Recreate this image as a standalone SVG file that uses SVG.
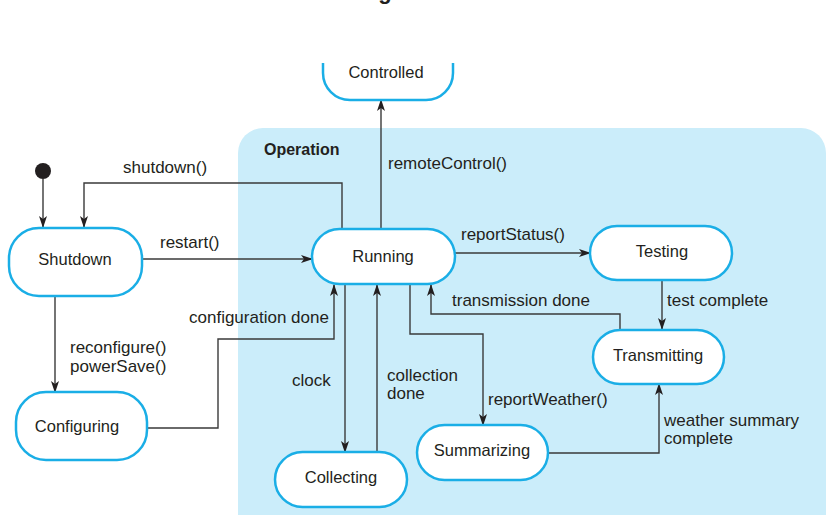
<svg xmlns="http://www.w3.org/2000/svg" width="835" height="519" viewBox="0 0 835 519">
<style>
.node{fill:#fff;stroke:#1aaee6;stroke-width:2.5}
.lbl{font-family:"Liberation Sans",Arial,sans-serif;font-size:17px;fill:#231f20}
.ntxt{font-family:"Liberation Sans",Arial,sans-serif;font-size:16.5px;fill:#231f20;text-anchor:middle}
.edge{fill:none;stroke:#3a3a3a;stroke-width:1.4}
</style>
<defs>
<marker id="ah" markerWidth="12" markerHeight="8" refX="11" refY="4" orient="auto" markerUnits="userSpaceOnUse">
<path d="M0,0 L12,4 L0,8 L3,4 z" fill="#231f20"/>
</marker>
</defs>
<rect width="835" height="519" fill="#fff"/>
<text x="385" y="-1" font-family="Liberation Sans,Arial,sans-serif" font-weight="bold" font-size="22" fill="#231f20" text-anchor="middle">g</text>
<g id="operation">
<path d="M238,515 V153 A25,25 0 0 1 263,128 H801 A25,25 0 0 1 826,153 V515 Z" fill="#cbedfa"/>
<text x="264" y="155" font-family="Liberation Sans,Arial,sans-serif" font-weight="bold" font-size="16" fill="#231f20">Operation</text>
</g>
<g id="connectors">
<circle cx="43" cy="171" r="8" fill="#231f20"/>
<path class="edge" d="M43,179 V227" marker-end="url(#ah)"/>
<path class="edge" d="M342,229 V183 H84 V227" marker-end="url(#ah)"/>
<path class="edge" d="M142,259 H312" marker-end="url(#ah)"/>
<path class="edge" d="M55,297 V392" marker-end="url(#ah)"/>
<path class="edge" d="M147,428 H218 V339 H334 V285" marker-end="url(#ah)"/>
<path class="edge" d="M345,285 V452" marker-end="url(#ah)"/>
<path class="edge" d="M377,452 V285" marker-end="url(#ah)"/>
<path class="edge" d="M410,285 V334 H483 V425" marker-end="url(#ah)"/>
<path class="edge" d="M620,330 V314 H431 V285" marker-end="url(#ah)"/>
<path class="edge" d="M455,253 H590" marker-end="url(#ah)"/>
<path class="edge" d="M662,280 V329" marker-end="url(#ah)"/>
<path class="edge" d="M548,453 H659 V384" marker-end="url(#ah)"/>
<path class="edge" d="M381,229 V100" marker-end="url(#ah)"/>
<text class="lbl" x="123" y="173">shutdown()</text>
<text class="lbl" x="160" y="248">restart()</text>
<text class="lbl" x="70" y="353">reconfigure()</text>
<text class="lbl" x="70" y="372">powerSave()</text>
<text class="lbl" x="189" y="323">configuration done</text>
<text class="lbl" x="292" y="386">clock</text>
<text class="lbl" x="387" y="381">collection</text>
<text class="lbl" x="387" y="399">done</text>
<text class="lbl" x="488" y="405">reportWeather()</text>
<text class="lbl" x="452" y="306">transmission done</text>
<text class="lbl" x="461" y="240">reportStatus()</text>
<text class="lbl" x="667" y="306">test complete</text>
<text class="lbl" x="664" y="426">weather summary</text>
<text class="lbl" x="664" y="444">complete</text>
<text class="lbl" x="388" y="169">remoteControl()</text>
</g>
<g id="controlled">
<path class="node" d="M323,63 V73 A27,27 0 0 0 350,100 H426 A27,27 0 0 0 453,73 V63"/>
<text class="ntxt" x="386" y="78">Controlled</text>
</g>
<g id="shutdown">
<rect class="node" x="9" y="228" width="133" height="68" rx="30"/>
<text class="ntxt" x="75" y="265">Shutdown</text>
</g>
<g id="running">
<rect class="node" x="312" y="229" width="143" height="55" rx="27.5"/>
<text class="ntxt" x="383" y="262">Running</text>
</g>
<g id="testing">
<rect class="node" x="590" y="226" width="142" height="54" rx="27"/>
<text class="ntxt" x="662" y="257">Testing</text>
</g>
<g id="transmitting">
<rect class="node" x="593" y="330" width="131" height="54" rx="27"/>
<text class="ntxt" x="658" y="361">Transmitting</text>
</g>
<g id="configuring">
<rect class="node" x="16" y="392" width="131" height="68" rx="30"/>
<text class="ntxt" x="77" y="432">Configuring</text>
</g>
<g id="collecting">
<rect class="node" x="275" y="452" width="132" height="55" rx="27.5"/>
<text class="ntxt" x="341" y="483">Collecting</text>
</g>
<g id="summarizing">
<rect class="node" x="417" y="425" width="131" height="55" rx="27.5"/>
<text class="ntxt" x="482" y="456">Summarizing</text>
</g>
</svg>
